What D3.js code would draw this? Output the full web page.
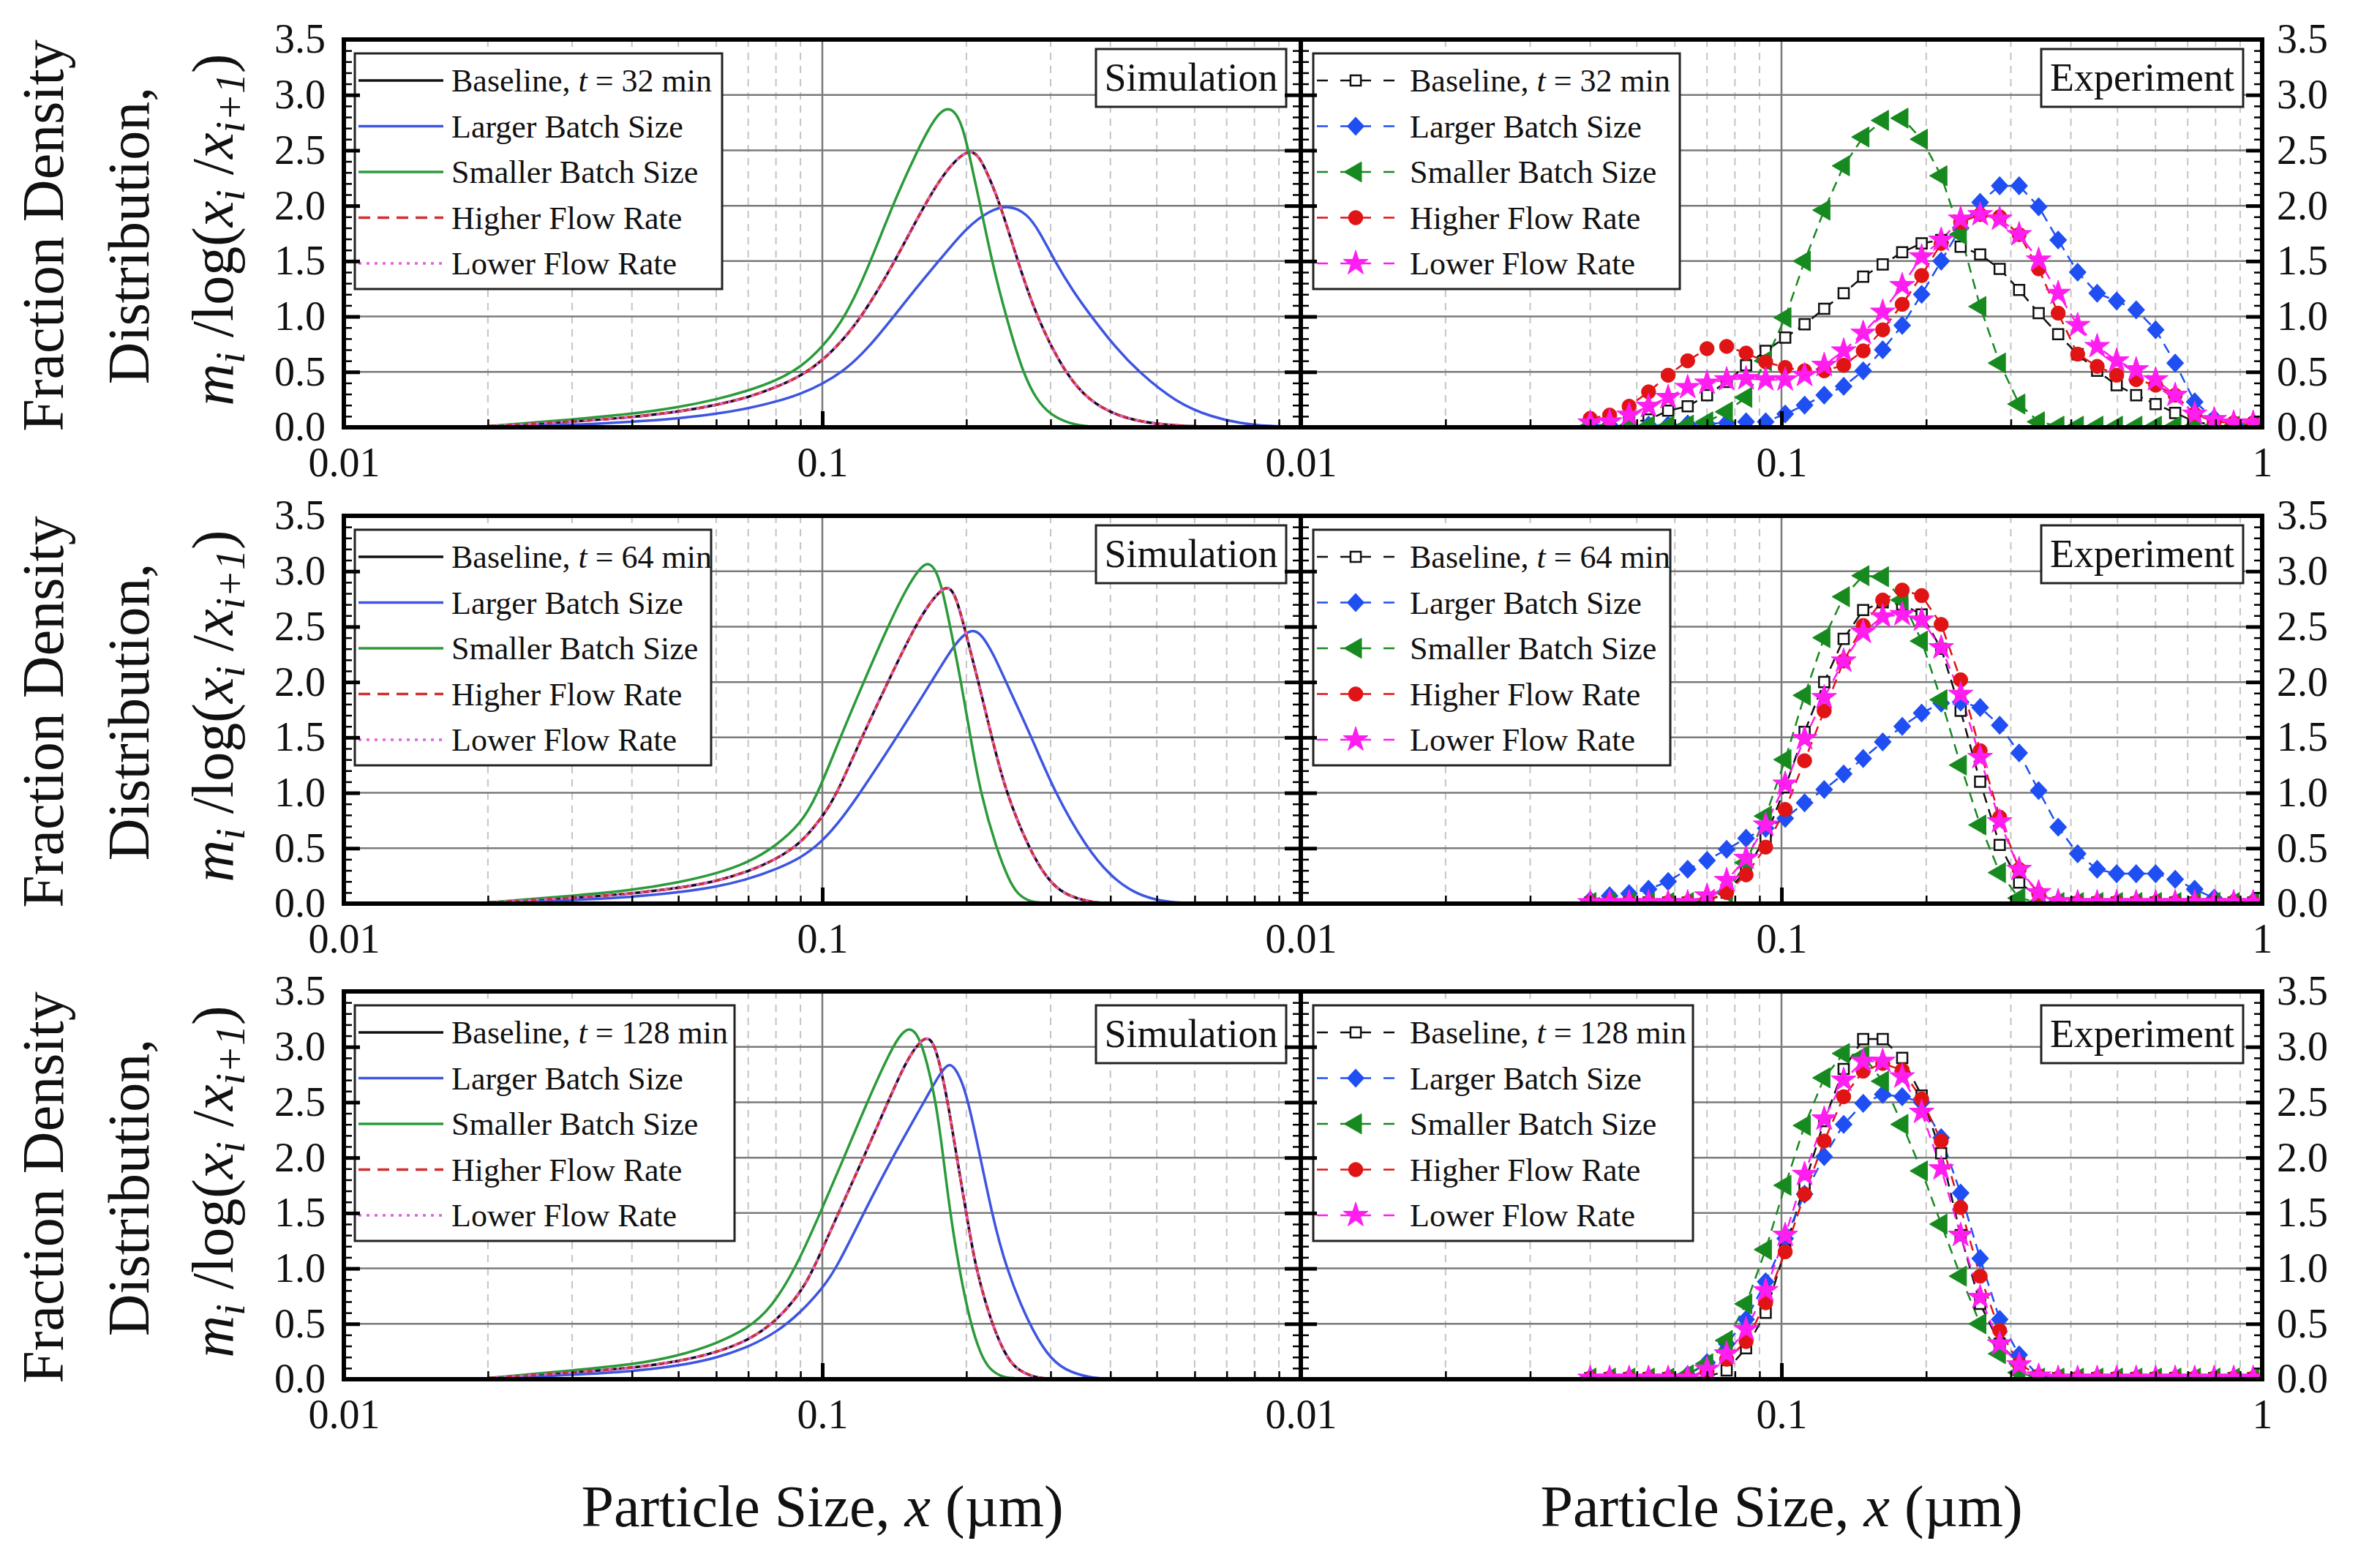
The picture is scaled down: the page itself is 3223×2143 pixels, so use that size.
<!DOCTYPE html>
<html><head><meta charset="utf-8">
<script src="https://cdn.jsdelivr.net/npm/d3@7"></script>
<style>
body{margin:0;background:#fff}
svg{display:block;background:#fff}
text{font-family:"Liberation Serif","Times New Roman",serif;fill:#111}
</style>
</head><body>
<svg id="c" width="3223" height="2143"></svg>
<script>
// ---------------- DATA ----------------
const seriesNames = ["Baseline", "Larger Batch Size", "Smaller Batch Size", "Higher Flow Rate", "Lower Flow Rate"];
const times = [32, 64, 128];
const yTicks = [0, 0.5, 1.0, 1.5, 2.0, 2.5, 3.0, 3.5];
const yMinorTicks = [0.1,0.2,0.3,0.4,0.6,0.7,0.8,0.9,1.1,1.2,1.3,1.4,1.6,1.7,1.8,1.9,2.1,2.2,2.3,2.4,2.6,2.7,2.8,2.9,3.1,3.2,3.3,3.4];
const xMajorTicks = [0.01, 0.1, 1];
const xMinorTicks = [0.02,0.03,0.04,0.05,0.06,0.07,0.08,0.09,0.2,0.3,0.4,0.5,0.6,0.7,0.8,0.9];
const simTickLabels = ["0.01", "0.1"];
const expTickLabels = ["0.01", "0.1", "1"];

// Simulation curves [x (µm), density]
const simBase32 = [[0.02,0.01],[0.03,0.05],[0.04,0.09],[0.05,0.14],[0.06,0.2],[0.07,0.27],[0.08,0.36],[0.09,0.46],[0.1,0.6],[0.11,0.78],[0.121,1.0],[0.14,1.45],[0.163,2.0],[0.18,2.3],[0.195,2.46],[0.205,2.5],[0.213,2.44],[0.222,2.28],[0.236,2.0],[0.256,1.5],[0.28,1.0],[0.32,0.5],[0.36,0.24],[0.418,0.09],[0.5,0.025],[0.6,0.005],[0.8,0],[1,0]];
const simLarger32 = [[0.02,0.005],[0.03,0.02],[0.04,0.05],[0.05,0.08],[0.06,0.12],[0.07,0.17],[0.08,0.23],[0.09,0.3],[0.1,0.39],[0.112,0.52],[0.125,0.72],[0.141,1.0],[0.16,1.3],[0.179,1.55],[0.2,1.8],[0.222,1.95],[0.245,2.01],[0.268,1.93],[0.285,1.76],[0.306,1.5],[0.335,1.22],[0.365,1.0],[0.41,0.72],[0.458,0.5],[0.55,0.22],[0.654,0.09],[0.75,0.035],[0.855,0.01],[1,0]];
const simSmaller32 = [[0.02,0.01],[0.03,0.07],[0.04,0.12],[0.05,0.18],[0.06,0.25],[0.07,0.33],[0.08,0.42],[0.09,0.54],[0.1,0.72],[0.112,1.0],[0.125,1.45],[0.14,2.0],[0.158,2.5],[0.17,2.76],[0.178,2.86],[0.184,2.88],[0.19,2.84],[0.196,2.72],[0.202,2.5],[0.214,2.0],[0.226,1.5],[0.242,1.0],[0.262,0.5],[0.28,0.25],[0.3,0.11],[0.33,0.03],[0.36,0.005],[0.4,0],[1,0]];
const simHigher32 = simBase32.map(d => [d[0], d[1]]);
const simLower32 = simBase32.map(d => [d[0], d[1]]);

const simBase64 = [[0.02,0.01],[0.03,0.05],[0.04,0.09],[0.05,0.14],[0.06,0.2],[0.07,0.29],[0.08,0.4],[0.09,0.54],[0.1,0.78],[0.107,0.98],[0.12,1.47],[0.137,2.0],[0.156,2.5],[0.168,2.72],[0.178,2.84],[0.184,2.86],[0.19,2.78],[0.198,2.5],[0.212,2.0],[0.226,1.5],[0.242,1.0],[0.27,0.5],[0.295,0.22],[0.32,0.08],[0.365,0.01],[0.4,0],[1,0]];
const simLarger64 = [[0.02,0.005],[0.03,0.03],[0.04,0.06],[0.05,0.1],[0.06,0.15],[0.07,0.22],[0.08,0.31],[0.09,0.41],[0.1,0.56],[0.11,0.77],[0.12,1.0],[0.143,1.5],[0.169,2.0],[0.188,2.33],[0.2,2.45],[0.208,2.47],[0.216,2.42],[0.228,2.25],[0.242,2.0],[0.274,1.5],[0.306,1.0],[0.357,0.5],[0.4,0.25],[0.446,0.1],[0.5,0.03],[0.547,0.01],[0.6,0],[1,0]];
const simSmaller64 = [[0.02,0.01],[0.03,0.07],[0.04,0.12],[0.05,0.19],[0.06,0.27],[0.07,0.37],[0.08,0.52],[0.09,0.72],[0.097,0.95],[0.109,1.5],[0.122,2.0],[0.137,2.5],[0.15,2.85],[0.16,3.03],[0.166,3.08],[0.172,3.03],[0.178,2.85],[0.185,2.5],[0.195,2.0],[0.204,1.5],[0.214,1.0],[0.231,0.5],[0.245,0.22],[0.256,0.08],[0.273,0.01],[0.3,0],[1,0]];
const simHigher64 = simBase64.map(d => [d[0], d[1]]);
const simLower64 = simBase64.map(d => [d[0], d[1]]);

const simBase128 = [[0.02,0.01],[0.03,0.06],[0.04,0.1],[0.05,0.16],[0.06,0.24],[0.07,0.35],[0.08,0.52],[0.09,0.78],[0.0956,0.98],[0.108,1.5],[0.122,2.0],[0.137,2.5],[0.15,2.88],[0.16,3.05],[0.166,3.09],[0.171,3.03],[0.176,2.85],[0.183,2.5],[0.191,2.0],[0.2,1.5],[0.209,1.0],[0.226,0.5],[0.24,0.24],[0.253,0.09],[0.28,0.01],[0.3,0],[1,0]];
const simLarger128 = [[0.02,0.005],[0.03,0.04],[0.04,0.07],[0.05,0.12],[0.06,0.19],[0.07,0.29],[0.08,0.42],[0.09,0.6],[0.1,0.82],[0.107,1.0],[0.122,1.5],[0.14,2.0],[0.163,2.5],[0.176,2.76],[0.184,2.86],[0.19,2.8],[0.196,2.68],[0.202,2.5],[0.214,2.0],[0.226,1.5],[0.242,1.0],[0.27,0.5],[0.295,0.22],[0.32,0.08],[0.365,0.01],[0.4,0],[1,0]];
const simSmaller128 = [[0.02,0.01],[0.03,0.08],[0.04,0.13],[0.05,0.21],[0.06,0.32],[0.07,0.46],[0.078,0.64],[0.0875,0.98],[0.099,1.5],[0.111,2.0],[0.124,2.5],[0.14,3.0],[0.147,3.13],[0.152,3.17],[0.157,3.13],[0.163,2.98],[0.173,2.5],[0.179,2.0],[0.185,1.5],[0.193,1.0],[0.204,0.5],[0.214,0.23],[0.223,0.09],[0.239,0.01],[0.26,0],[1,0]];
const simHigher128 = simBase128.map(d => [d[0], d[1]]);
const simLower128 = simBase128.map(d => [d[0], d[1]]);

// Experiment bins (µm)
const expX = [0.0400,0.0439,0.0482,0.0529,0.0581,0.0638,0.0700,0.0769,0.0844,0.0927,0.1018,0.1117,0.1227,0.1347,0.1479,0.1624,0.1783,0.1957,0.2149,0.2359,0.2590,0.2844,0.3122,0.3428,0.3764,0.4132,0.4537,0.4981,0.5469,0.6004,0.6592,0.7238,0.7947,0.8725,0.9579];

const expBase32    = [0.01,0.02,0.04,0.07,0.15,0.19,0.29,0.41,0.56,0.69,0.81,0.93,1.07,1.21,1.36,1.47,1.58,1.66,1.69,1.63,1.56,1.43,1.24,1.03,0.84,0.66,0.51,0.38,0.29,0.21,0.13,0.05,0.02,0.01,0.01];
const expLarger32  = [0.02,0.02,0.02,0.02,0.02,0.03,0.03,0.04,0.05,0.05,0.12,0.20,0.29,0.37,0.51,0.70,0.92,1.20,1.50,1.80,2.03,2.18,2.18,1.99,1.69,1.40,1.21,1.14,1.06,0.88,0.58,0.23,0.08,0.03,0.02];
const expSmaller32 = [0.01,0.01,0.01,0.01,0.01,0.02,0.05,0.14,0.27,0.60,0.99,1.50,1.96,2.36,2.62,2.77,2.79,2.60,2.27,1.74,1.09,0.58,0.21,0.05,0.01,0.01,0.01,0.01,0.01,0.01,0.01,0.01,0.01,0.01,0.01];
const expHigher32  = [0.08,0.11,0.19,0.32,0.47,0.60,0.71,0.73,0.67,0.59,0.54,0.51,0.51,0.56,0.69,0.88,1.11,1.37,1.66,1.85,1.92,1.90,1.74,1.43,1.03,0.66,0.55,0.47,0.43,0.38,0.29,0.12,0.05,0.04,0.04];
const expLower32   = [0.04,0.05,0.11,0.19,0.27,0.36,0.40,0.43,0.44,0.43,0.43,0.47,0.56,0.69,0.85,1.04,1.28,1.54,1.69,1.88,1.92,1.88,1.74,1.51,1.21,0.92,0.73,0.60,0.52,0.43,0.29,0.12,0.07,0.04,0.04];

const expBase64    = [0.01,0.01,0.01,0.01,0.01,0.01,0.02,0.10,0.30,0.60,1.05,1.55,2.00,2.39,2.65,2.72,2.70,2.61,2.30,1.74,1.10,0.53,0.19,0.06,0.01,0.01,0.01,0.01,0.01,0.01,0.01,0.01,0.01,0.01,0.01];
const expLarger64  = [0.03,0.07,0.09,0.13,0.20,0.31,0.39,0.49,0.59,0.68,0.77,0.91,1.03,1.17,1.31,1.46,1.60,1.72,1.81,1.82,1.77,1.61,1.36,1.02,0.69,0.45,0.31,0.27,0.27,0.27,0.22,0.13,0.05,0.02,0.02];
const expSmaller64 = [0.01,0.01,0.01,0.01,0.01,0.01,0.02,0.10,0.37,0.79,1.30,1.88,2.40,2.77,2.96,2.95,2.74,2.37,1.84,1.25,0.71,0.28,0.05,0.01,0.01,0.01,0.01,0.01,0.01,0.01,0.01,0.01,0.01,0.01,0.01];
const expHigher64  = [0.01,0.01,0.01,0.01,0.01,0.01,0.03,0.10,0.26,0.51,0.85,1.29,1.74,2.19,2.51,2.74,2.83,2.78,2.52,2.02,1.38,0.78,0.31,0.09,0.01,0.01,0.01,0.01,0.01,0.01,0.01,0.01,0.01,0.01,0.01];
const expLower64   = [0.01,0.01,0.01,0.01,0.01,0.01,0.07,0.21,0.41,0.71,1.08,1.49,1.86,2.19,2.45,2.59,2.61,2.56,2.31,1.89,1.32,0.74,0.31,0.10,0.02,0.01,0.01,0.01,0.01,0.01,0.01,0.01,0.01,0.01,0.01];

const expBase128    = [0.01,0.01,0.01,0.01,0.01,0.01,0.02,0.08,0.28,0.60,1.17,1.76,2.33,2.80,3.07,3.07,2.90,2.56,2.04,1.30,0.68,0.32,0.14,0.03,0.01,0.01,0.01,0.01,0.01,0.01,0.01,0.01,0.01,0.01,0.01];
const expLarger128  = [0.01,0.01,0.01,0.01,0.01,0.04,0.15,0.32,0.54,0.88,1.27,1.67,2.01,2.30,2.49,2.57,2.55,2.50,2.18,1.68,1.09,0.54,0.22,0.03,0.01,0.01,0.01,0.01,0.01,0.01,0.01,0.01,0.01,0.01,0.01];
const expSmaller128 = [0.01,0.01,0.01,0.01,0.01,0.04,0.14,0.35,0.68,1.17,1.75,2.29,2.72,2.94,2.92,2.69,2.30,1.88,1.40,0.93,0.50,0.23,0.06,0.01,0.01,0.01,0.01,0.01,0.01,0.01,0.01,0.01,0.01,0.01,0.01];
const expHigher128  = [0.01,0.01,0.01,0.01,0.01,0.01,0.07,0.18,0.34,0.69,1.15,1.67,2.15,2.55,2.78,2.85,2.79,2.53,2.15,1.55,0.93,0.44,0.14,0.03,0.01,0.01,0.01,0.01,0.01,0.01,0.01,0.01,0.01,0.01,0.01];
const expLower128   = [0.01,0.01,0.01,0.01,0.01,0.01,0.09,0.23,0.45,0.80,1.30,1.85,2.35,2.70,2.87,2.87,2.73,2.41,1.90,1.30,0.74,0.32,0.13,0.03,0.01,0.01,0.01,0.01,0.01,0.01,0.01,0.01,0.01,0.01,0.01];

const simRows = [
  [simBase32, simLarger32, simSmaller32, simHigher32, simLower32],
  [simBase64, simLarger64, simSmaller64, simHigher64, simLower64],
  [simBase128, simLarger128, simSmaller128, simHigher128, simLower128]
];
const expRows = [
  [expBase32, expLarger32, expSmaller32, expHigher32, expLower32],
  [expBase64, expLarger64, expSmaller64, expHigher64, expLower64],
  [expBase128, expLarger128, expSmaller128, expHigher128, expLower128]
];

// ---------------- STYLE / LAYOUT ----------------
const simColors = ["#111111", "#3d55e0", "#2b9a3a", "#d0302f", "#e060e0"];
const simDash = [null, null, null, "16,10", "4,7"];
const expColors = ["#111111", "#1f4ff2", "#178a1f", "#e01414", "#ff1df0"];
const rowTops = [54, 705, 1355];
const PH = 530;
const legendW = [502, 487, 519];
const expLegendW = [501, 488, 519];
const FONT = '"Liberation Serif","Times New Roman",serif';

const svg = d3.select("#c");
const defs = svg.append("defs");
const xL = d3.scaleLog().domain([0.01, 1]).range([470, 1778]);
const xR = d3.scaleLog().domain([0.01, 1]).range([1778, 3092]);

const symbolTypes = [d3.symbolSquare, d3.symbolDiamond, d3.symbolTriangle, d3.symbolCircle, d3.symbolStar];
const symbolSizes = [200, 210, 330, 300, 360];
function drawMarker(g, i, cx, cy) {
  const p = g.append("path")
    .attr("d", d3.symbol().type(symbolTypes[i]).size(symbolSizes[i])())
    .attr("transform", `translate(${cx},${cy})` + (i === 1 ? " scale(1.45,0.9)" : "") + (i === 2 ? " rotate(-90)" : ""));
  if (i === 0) p.attr("fill", "#fff").attr("stroke", "#111").attr("stroke-width", 2.5);
  else p.attr("fill", expColors[i]).attr("stroke", expColors[i]).attr("stroke-width", 1);
  return p;
}

rowTops.forEach((top, r) => {
  const y = d3.scaleLinear().domain([0, 3.5]).range([top + PH, top]);
  [xL, xR].forEach((x, p) => {
    const [x0, x1] = x.range();
    const g = svg.append("g");
    const cid = `clip${r}${p}`;
    defs.append("clipPath").attr("id", cid).append("rect")
      .attr("x", x0).attr("y", top).attr("width", x1 - x0).attr("height", PH);

    // grid
    g.selectAll(null).data(xMinorTicks).join("line")
      .attr("x1", d => x(d)).attr("x2", d => x(d)).attr("y1", top).attr("y2", top + PH)
      .attr("stroke", "#c4c4c4").attr("stroke-width", 2).attr("stroke-dasharray", "10,8");
    g.append("line").attr("x1", x(0.1)).attr("x2", x(0.1)).attr("y1", top).attr("y2", top + PH)
      .attr("stroke", "#7a7a7a").attr("stroke-width", 2.5);
    g.selectAll(null).data(yTicks.slice(1, -1)).join("line")
      .attr("x1", x0).attr("x2", x1).attr("y1", d => y(d)).attr("y2", d => y(d))
      .attr("stroke", "#7a7a7a").attr("stroke-width", 2.5);

    const dg = g.append("g").attr("clip-path", `url(#${cid})`);
    if (p === 0) {
      const line = d3.line().x(d => x(d[0])).y(d => y(d[1])).curve(d3.curveBasis);
      simRows[r].forEach((s, i) => {
        dg.append("path").attr("d", line(s)).attr("fill", "none")
          .attr("stroke", simColors[i]).attr("stroke-width", 3.5)
          .attr("stroke-dasharray", simDash[i]);
      });
    } else {
      const line = d3.line().x((d, k) => x(expX[k])).y(d => y(d));
      expRows[r].forEach((s, i) => {
        dg.append("path").attr("d", line(s)).attr("fill", "none")
          .attr("stroke", expColors[i]).attr("stroke-width", 2.5).attr("stroke-dasharray", "14,9");
      });
      expRows[r].forEach((s, i) => {
        const mg = dg.append("g");
        s.forEach((v, k) => drawMarker(mg, i, x(expX[k]), y(v)));
      });
    }

    // legend
    const lg = g.append("g");
    const lx0 = p === 0 ? 485 : 1795;
    const lw = p === 0 ? legendW[r] : expLegendW[r];
    lg.append("rect").attr("x", lx0).attr("y", top + 19).attr("width", lw).attr("height", 322)
      .attr("fill", "#fff").attr("stroke", "#222").attr("stroke-width", 3);
    seriesNames.forEach((name, i) => {
      const ly = top + 56 + 62.5 * i;
      if (p === 0) {
        lg.append("line").attr("x1", 490).attr("x2", 606).attr("y1", ly).attr("y2", ly)
          .attr("stroke", simColors[i]).attr("stroke-width", 3.5).attr("stroke-dasharray", simDash[i]);
      } else {
        lg.append("line").attr("x1", 1800).attr("x2", 1906).attr("y1", ly).attr("y2", ly)
          .attr("stroke", expColors[i]).attr("stroke-width", 2.5).attr("stroke-dasharray", "15,17,42,17,15");
        drawMarker(lg, i, 1853, ly);
      }
      const t = lg.append("text").attr("x", p === 0 ? 617 : 1927).attr("y", ly + 15)
        .attr("font-size", 44);
      if (i === 0) {
        t.append("tspan").text(name + ", ");
        t.append("tspan").attr("font-style", "italic").text("t");
        t.append("tspan").text(` = ${times[r]} min`);
      } else t.text(name);
    });

    // label box
    const bx = p === 0 ? 1498 : 2790, bw = p === 0 ? 260 : 276;
    const boxTop = top + (r === 2 ? 19 : 13);
    g.append("rect").attr("x", bx).attr("y", boxTop).attr("width", bw).attr("height", 79)
      .attr("fill", "#fff").attr("stroke", "#222").attr("stroke-width", 3);
    g.append("text").attr("x", bx + bw / 2).attr("y", boxTop + 57).attr("text-anchor", "middle")
      .attr("font-size", 54).text(p === 0 ? "Simulation" : "Experiment");

    // frame
    g.append("rect").attr("x", x0).attr("y", top).attr("width", x1 - x0).attr("height", PH)
      .attr("fill", "none").attr("stroke", "#000").attr("stroke-width", 6);

    // axes (ticks inward)
    function styleAxis(sel, w) {
      sel.select(".domain").remove();
      sel.selectAll(".tick line").attr("stroke", "#000").attr("stroke-width", w);
      sel.attr("font-size", 56).attr("font-family", FONT);
      sel.selectAll(".tick text").attr("fill", "#111");
    }
    const leftMajor = d3.axisLeft(y).tickValues(yTicks).tickSizeInner(-22).tickSizeOuter(0).tickPadding(25)
      .tickFormat(p === 0 ? d3.format(".1f") : () => "");
    svg.append("g").attr("transform", `translate(${x0},0)`).call(leftMajor).call(s => styleAxis(s, 5));
    svg.append("g").attr("transform", `translate(${x0},0)`)
      .call(d3.axisLeft(y).tickValues(yMinorTicks).tickSizeInner(-11).tickSizeOuter(0).tickFormat(() => ""))
      .call(s => styleAxis(s, 2.5));
    const rightMajor = d3.axisRight(y).tickValues(yTicks).tickSizeInner(-22).tickSizeOuter(0).tickPadding(20)
      .tickFormat(p === 1 ? d3.format(".1f") : () => "");
    svg.append("g").attr("transform", `translate(${x1},0)`).call(rightMajor).call(s => styleAxis(s, 5));
    svg.append("g").attr("transform", `translate(${x1},0)`)
      .call(d3.axisRight(y).tickValues(yMinorTicks).tickSizeInner(-11).tickSizeOuter(0).tickFormat(() => ""))
      .call(s => styleAxis(s, 2.5));
    const labels = p === 0 ? simTickLabels : expTickLabels;
    const xt = xMajorTicks.slice(0, labels.length);
    svg.append("g").attr("transform", `translate(0,${top + PH})`)
      .call(d3.axisBottom(x).tickValues(xt).tickSizeInner(-22).tickSizeOuter(0).tickPadding(27)
        .tickFormat((d, k) => labels[k]))
      .call(s => styleAxis(s, 5));
    svg.append("g").attr("transform", `translate(0,${top + PH})`)
      .call(d3.axisBottom(x).tickValues(xMinorTicks).tickSizeInner(-11).tickSizeOuter(0).tickFormat(() => ""))
      .call(s => styleAxis(s, 2.5));
  });

  // y-axis titles
  const cy = top + 268;
  svg.append("text").attr("transform", `translate(86,${cy}) rotate(-90)`).attr("text-anchor", "middle")
    .attr("font-size", 80).text("Fraction Density");
  svg.append("text").attr("transform", `translate(203,${cy}) rotate(-90)`).attr("text-anchor", "middle")
    .attr("font-size", 80).text("Distribution,");
  const t3 = svg.append("text").attr("transform", `translate(318,${cy - 8}) rotate(-90)`).attr("text-anchor", "middle")
    .attr("font-size", 80);
  t3.append("tspan").attr("font-style", "italic").text("m");
  t3.append("tspan").attr("font-style", "italic").attr("font-size", 56).attr("dy", 16).text("i");
  t3.append("tspan").attr("dy", -16).text(" /log(");
  t3.append("tspan").attr("font-style", "italic").text("x");
  t3.append("tspan").attr("font-style", "italic").attr("font-size", 56).attr("dy", 16).text("i");
  t3.append("tspan").attr("dy", -16).text(" /");
  t3.append("tspan").attr("font-style", "italic").text("x");
  t3.append("tspan").attr("font-style", "italic").attr("font-size", 56).attr("dy", 16).text("i+1");
  t3.append("tspan").attr("dy", -16).text(")");
});

// x-axis titles
[xL, xR].forEach(x => {
  const [a, b] = x.range();
  const t = svg.append("text").attr("x", (a + b) / 2).attr("y", 2086).attr("text-anchor", "middle").attr("font-size", 80);
  t.append("tspan").text("Particle Size, ");
  t.append("tspan").attr("font-style", "italic").text("x");
  t.append("tspan").text(" (µm)");
});
</script>
</body></html>
